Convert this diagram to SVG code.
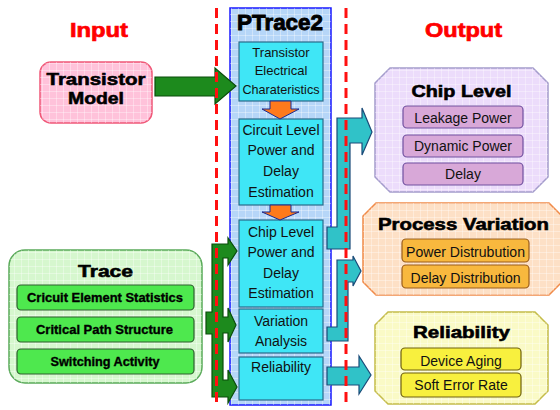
<svg xmlns="http://www.w3.org/2000/svg" width="560" height="410" viewBox="0 0 560 410">
<defs>
<pattern id="grid" width="7" height="7" patternUnits="userSpaceOnUse">
<path d="M0,0.5H7M0.5,0V7" stroke="#ffffff" stroke-opacity="0.35" stroke-width="1" fill="none"/>
</pattern>
<style>
text{font-family:"Liberation Sans",Arial,sans-serif;text-anchor:middle;fill:#111}
.hdr{font-size:20px;font-weight:bold;fill:#ff0000;stroke:#ff0000;stroke-width:0.7}
.big{font-size:17px;font-weight:bold;fill:#000;stroke:#000;stroke-width:0.6}
.in{font-size:13px}
.in14{font-size:14px}
.sub{font-size:14px}
.tsub{font-size:13px;font-weight:bold;fill:#000;stroke:#000;stroke-width:0.35}
.inner{fill:#3fe6f6;stroke:#2a6a8a;stroke-width:1.2}
.grid{fill:url(#grid)}
.green{fill:#1d8a1d;stroke:#0b4d0b;stroke-width:1.2}
.teal{fill:#30c2c8;stroke:#1a4a78;stroke-width:1.2}
.orange{fill:#ff7a1c;stroke:#1a2a90;stroke-width:1}
.dash{stroke:#ff1010;stroke-width:3;stroke-dasharray:10 6;fill:none}
</style>
</defs>
<rect width="560" height="410" fill="#ffffff"/>

<text class="hdr" x="99" y="37" textLength="58" lengthAdjust="spacingAndGlyphs">Input</text>
<text class="hdr" x="463.5" y="37" textLength="77" lengthAdjust="spacingAndGlyphs">Output</text>

<g id="transistor-model">
<rect x="40" y="62" width="112" height="61" rx="11" fill="#ffc2da" stroke="#f05878" stroke-width="1.5"/>
<rect x="40" y="62" width="112" height="61" rx="11" class="grid"/>
<text class="big" x="96" y="85" textLength="99" lengthAdjust="spacingAndGlyphs">Transistor</text>
<text class="big" x="96" y="104" textLength="56" lengthAdjust="spacingAndGlyphs">Model</text>
</g>

<g id="trace">
<rect x="9" y="250" width="193" height="133" rx="16" fill="#d6f7ce" stroke="#5aaa5a" stroke-width="1.5"/>
<rect x="9" y="250" width="193" height="133" rx="16" class="grid"/>
<text class="big" x="105.5" y="277" textLength="55" lengthAdjust="spacingAndGlyphs">Trace</text>
<rect x="17" y="285" width="177" height="25" rx="4" fill="#4ee84e" stroke="#2e5e2e" stroke-width="1.2"/>
<rect x="17" y="317" width="177" height="25" rx="4" fill="#4ee84e" stroke="#2e5e2e" stroke-width="1.2"/>
<rect x="17" y="349" width="177" height="25" rx="4" fill="#4ee84e" stroke="#2e5e2e" stroke-width="1.2"/>
<text class="tsub" x="105" y="302" textLength="156" lengthAdjust="spacingAndGlyphs">Cricuit Element Statistics</text>
<text class="tsub" x="104.5" y="334" textLength="137" lengthAdjust="spacingAndGlyphs">Critical Path Structure</text>
<text class="tsub" x="105" y="366" textLength="109" lengthAdjust="spacingAndGlyphs">Switching Activity</text>
</g>

<g id="ptrace2">
<rect x="230" y="8" width="101" height="397" fill="#b6d6f8" stroke="#1a1aff" stroke-width="1.5"/>
<rect x="230" y="8" width="101" height="397" class="grid"/>
<text x="280" y="30" style="font-size:22px;font-weight:bold;fill:#000;stroke:#000;stroke-width:0.9" textLength="86" lengthAdjust="spacingAndGlyphs">PTrace2</text>
</g>

<g id="transistor-electrical">
<rect class="inner" x="239" y="42" width="84" height="59"/>
<text class="in" x="281" y="57">Transistor</text>
<text class="in" x="281" y="75">Electrical</text>
<text class="in" x="281" y="94" textLength="77" lengthAdjust="spacingAndGlyphs">Charateristics</text>
</g>

<g id="circuit-level">
<rect class="inner" x="239" y="119" width="84" height="86"/>
<text class="in14" x="281" y="135">Circuit Level</text>
<text class="in14" x="281" y="155">Power and</text>
<text class="in14" x="281" y="176">Delay</text>
<text class="in14" x="281" y="197">Estimation</text>
</g>

<g id="chip-level-est">
<rect class="inner" x="239" y="220" width="84" height="87"/>
<text class="in14" x="281" y="237">Chip Level</text>
<text class="in14" x="281" y="257">Power and</text>
<text class="in14" x="281" y="278">Delay</text>
<text class="in14" x="281" y="298">Estimation</text>
</g>

<g id="variation-analysis">
<rect class="inner" x="239" y="309" width="84" height="44"/>
<text class="in14" x="281" y="326">Variation</text>
<text class="in14" x="281" y="346">Analysis</text>
</g>

<g id="reliability-block">
<rect class="inner" x="239" y="357" width="84" height="43"/>
<text class="in14" x="281" y="372">Reliability</text>
</g>

<g id="chip-level">
<polygon points="390,68 533,68 548,83 548,177 533,192 390,192 375,177 375,83" fill="#ecdcfb" stroke="#a49ccc" stroke-width="1.5"/>
<polygon points="390,68 533,68 548,83 548,177 533,192 390,192 375,177 375,83" class="grid"/>
<text class="big" x="461.5" y="97" textLength="100" lengthAdjust="spacingAndGlyphs">Chip Level</text>
<rect x="403" y="106" width="120" height="22" rx="4" fill="#d8a8d8" stroke="#7050a0" stroke-width="1.2"/>
<rect x="403" y="135" width="120" height="22" rx="4" fill="#d8a8d8" stroke="#7050a0" stroke-width="1.2"/>
<rect x="403" y="163" width="120" height="22" rx="4" fill="#d8a8d8" stroke="#7050a0" stroke-width="1.2"/>
<text class="sub" x="463" y="123">Leakage Power</text>
<text class="sub" x="463" y="151">Dynamic Power</text>
<text class="sub" x="463" y="179">Delay</text>
</g>

<g id="process-variation">
<polygon points="376,203 549,203 562,216 562,282 549,295 376,295 363,282 363,216" fill="#fde0c6" stroke="#f08a48" stroke-width="1.5"/>
<polygon points="376,203 549,203 562,216 562,282 549,295 376,295 363,282 363,216" class="grid"/>
<text class="big" x="463.5" y="230" textLength="171" lengthAdjust="spacingAndGlyphs">Process Variation</text>
<rect x="402" y="239" width="127" height="23" rx="4" fill="#f8b83e" stroke="#9a5c1a" stroke-width="1.2"/>
<rect x="402" y="265" width="127" height="23" rx="4" fill="#f8b83e" stroke="#9a5c1a" stroke-width="1.2"/>
<text class="sub" x="465.5" y="257" textLength="119" lengthAdjust="spacingAndGlyphs">Power Distrubution</text>
<text class="sub" x="465.5" y="283" textLength="110" lengthAdjust="spacingAndGlyphs">Delay Distribution</text>
</g>

<g id="reliability">
<polygon points="388,312 535,312 548,325 548,391 535,404 388,404 375,391 375,325" fill="#fafac6" stroke="#c4bc4a" stroke-width="1.5"/>
<polygon points="388,312 535,312 548,325 548,391 535,404 388,404 375,391 375,325" class="grid"/>
<text class="big" x="461.5" y="338" textLength="97" lengthAdjust="spacingAndGlyphs">Reliability</text>
<rect x="401" y="348" width="120" height="22" rx="4" fill="#f8f03e" stroke="#6e6010" stroke-width="1.2"/>
<rect x="401" y="373" width="120" height="24" rx="4" fill="#f8f03e" stroke="#6e6010" stroke-width="1.2"/>
<text class="sub" x="461" y="366">Device Aging</text>
<text class="sub" x="461" y="390">Soft Error Rate</text>
</g>

<g id="connectors">
<path class="green" d="M155,77 L215,77 L215,68 L236,86 L215,104 L215,96 L155,96 Z"/>
<path class="green" d="M212,244 L228,244 L228,238 L237,251 L228,265 L228,258 L223,258 L223,317 L228,317 L228,308 L236,325 L228,342 L228,333 L223,333 L223,380 L228,380 L228,370 L237,387 L228,403 L228,397 L212,397 L212,334 L206,334 L206,312 L212,312 Z"/>
<path class="orange" d="M270,101 L291,101 L291,109 L299,109 L280,119 L262,109 L270,109 Z"/>
<path class="orange" d="M270,205 L291,205 L291,212 L299,212 L280,220 L262,212 L270,212 Z"/>
<path class="teal" d="M337,118 L362,118 L362,108 L372,132 L362,155 L362,143 L350,143 L350,249 L327,249 L327,227 L337,227 Z"/>
<path class="teal" d="M337,260 L353,260 L353,256 L361,271 L353,286 L353,282 L348,282 L348,341 L327,341 L327,327 L337,327 Z"/>
<path class="teal" d="M327,367 L359,367 L359,356 L371,375 L359,394 L359,385 L327,385 Z"/>
</g>

<line class="dash" x1="216.5" y1="8" x2="216.5" y2="406"/>
<line class="dash" x1="346" y1="8" x2="346" y2="406"/>
</svg>
